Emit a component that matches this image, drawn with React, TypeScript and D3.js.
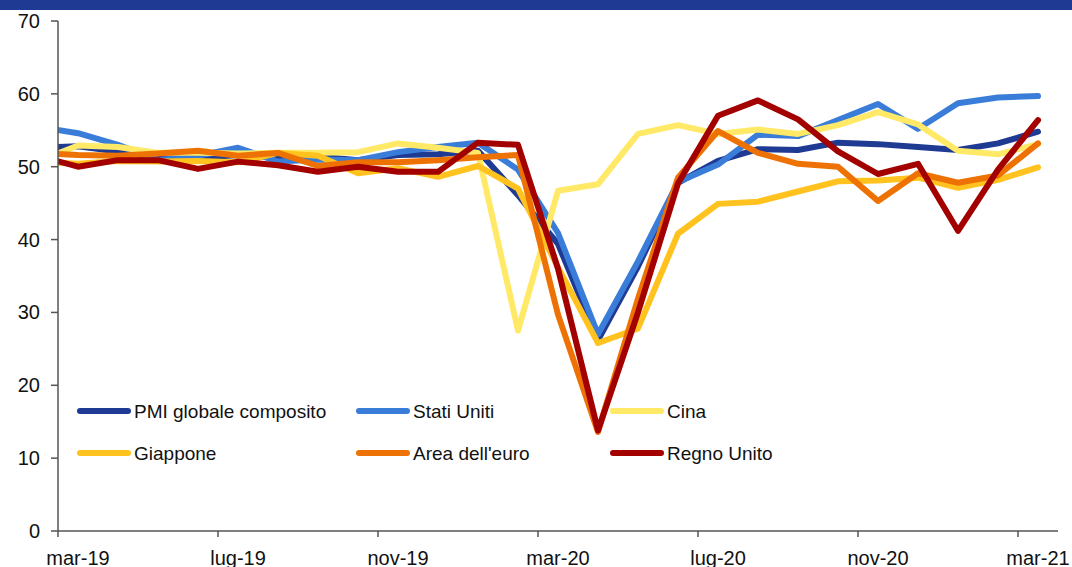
import React from "react";
import * as d3 from "d3";

const months = [
  "feb-19", "mar-19", "apr-19", "mag-19", "giu-19", "lug-19", "ago-19", "set-19", "ott-19", "nov-19", "dic-19",
  "gen-20", "feb-20", "mar-20", "apr-20", "mag-20", "giu-20", "lug-20", "ago-20", "set-20", "ott-20", "nov-20", "dic-20",
  "gen-21", "feb-21", "mar-21",
];

const tickLabels = ["mar-19", "lug-19", "nov-19", "mar-20", "lug-20", "nov-20", "mar-21"];
const yTicks = [0, 10, 20, 30, 40, 50, 60, 70];

const globale = [52.6, 52.8, 52.1, 51.2, 51.2, 51.6, 51.3, 51.4, 50.9, 51.6, 51.7, 52.2, 46.1, 39.4, 26.2, 36.3, 47.8, 50.8, 52.4, 52.3, 53.3, 53.1, 52.7, 52.3, 53.2, 54.8];
const statiUniti = [55.5, 54.6, 53.0, 50.9, 51.5, 52.6, 50.7, 51.0, 50.9, 52.0, 52.7, 53.3, 49.6, 40.9, 27.0, 37.0, 47.9, 50.3, 54.4, 54.2, 56.4, 58.6, 55.2, 58.7, 59.5, 59.7];
const cina = [50.7, 52.9, 52.7, 51.9, 51.9, 51.8, 51.9, 51.9, 52.0, 53.2, 52.6, 51.9, 27.5, 46.7, 47.6, 54.5, 55.7, 54.5, 55.1, 54.5, 55.7, 57.5, 55.8, 52.2, 51.7, 53.1];
const giappone = [50.7, 50.4, 50.8, 50.7, 50.8, 50.6, 51.9, 51.5, 49.1, 49.8, 48.6, 50.1, 47.0, 36.2, 25.8, 27.8, 40.8, 44.9, 45.2, 46.6, 48.0, 48.1, 48.5, 47.1, 48.2, 49.9];
const areaEuro = [51.9, 51.6, 51.5, 51.8, 52.2, 51.5, 51.9, 50.1, 50.6, 50.6, 50.9, 51.3, 51.6, 29.7, 13.6, 31.9, 48.5, 54.9, 51.9, 50.4, 50.0, 45.3, 49.1, 47.8, 48.8, 53.2];
const regnoUnito = [51.5, 50.0, 50.9, 50.9, 49.7, 50.7, 50.2, 49.3, 50.0, 49.3, 49.3, 53.3, 53.0, 36.0, 13.8, 30.0, 47.7, 57.0, 59.1, 56.5, 52.1, 49.0, 50.4, 41.2, 49.6, 56.4];

const seriesNames = ["PMI globale composito", "Stati Uniti", "Cina", "Giappone", "Area dell'euro", "Regno Unito"];
const seriesColors = ["#1f3a93", "#3a7dd9", "#ffe966", "#ffc21e", "#ee7203", "#a30000"];
const seriesValues = [globale, statiUniti, cina, giappone, areaEuro, regnoUnito];

const W = 1072;
const H = 567;
const left = 58;
const right = 1058;
const top = 21;
const bottom = 531;
const font = "'Liberation Sans', Arial, sans-serif";

export default function App() {
  // index 0 = mar-19; feb-19 sits at -1 (clipped by the plot area)
  const x = d3.scaleLinear().domain([0, 25]).range([left, right]);
  const y = d3.scaleLinear().domain([0, 70]).range([bottom, top]);
  const px = (i: number) => x(i - 1 + 0.5);

  const line = d3
    .line<number>()
    .x((_, i) => px(i))
    .y((d) => y(d));

  const tickIdx = tickLabels.map((t) => months.indexOf(t) - 1);

  const legendCols = [78, 357, 611];
  const legendRows = [411, 453];

  return (
    <svg width={W} height={H} style={{ position: "absolute", left: 0, top: 0, background: "#fff" }}>
      <defs>
        <clipPath id="plot">
          <rect x={left} y={0} width={W - left} height={H} />
        </clipPath>
      </defs>
      <rect x={0} y={0} width={W} height={10} fill="#1f3a93" />

      <g clipPath="url(#plot)">
        {seriesValues.map((vals, k) => (
          <path
            key={k}
            d={line(vals) || ""}
            fill="none"
            stroke={seriesColors[k]}
            strokeWidth={6}
            strokeLinejoin="round"
            strokeLinecap="round"
          />
        ))}
      </g>

      {/* y axis */}
      <line x1={left} x2={left} y1={top} y2={bottom} stroke="#555" strokeWidth={1.5} />
      {yTicks.map((t) => (
        <g key={t}>
          <line x1={left - 7} x2={left} y1={y(t)} y2={y(t)} stroke="#555" strokeWidth={1.5} />
          <text
            x={40}
            y={y(t)}
            dy="0.35em"
            textAnchor="end"
            fontFamily={font}
            fontSize={20}
            fill="#111"
          >
            {t}
          </text>
        </g>
      ))}

      {/* x axis */}
      <line x1={left} x2={right} y1={bottom} y2={bottom} stroke="#555" strokeWidth={1.5} />
      {tickIdx.map((i, k) => (
        <g key={k}>
          <line x1={x(i)} x2={x(i)} y1={bottom} y2={bottom + 6} stroke="#555" strokeWidth={1.5} />
          <text x={x(i + 0.5)} y={565} textAnchor="middle" fontFamily={font} fontSize={20} fill="#111">
            {tickLabels[k]}
          </text>
        </g>
      ))}

      {/* legend */}
      {seriesNames.map((name, k) => {
        const cx = legendCols[k % 3];
        const cy = legendRows[Math.floor(k / 3)];
        return (
          <g key={name}>
            <line
              x1={cx + 2}
              x2={cx + 50}
              y1={cy}
              y2={cy}
              stroke={seriesColors[k]}
              strokeWidth={6}
              strokeLinecap="round"
            />
            <text x={cx + 56} y={cy} dy="0.35em" fontFamily={font} fontSize={19} fill="#111">
              {name}
            </text>
          </g>
        );
      })}
    </svg>
  );
}
